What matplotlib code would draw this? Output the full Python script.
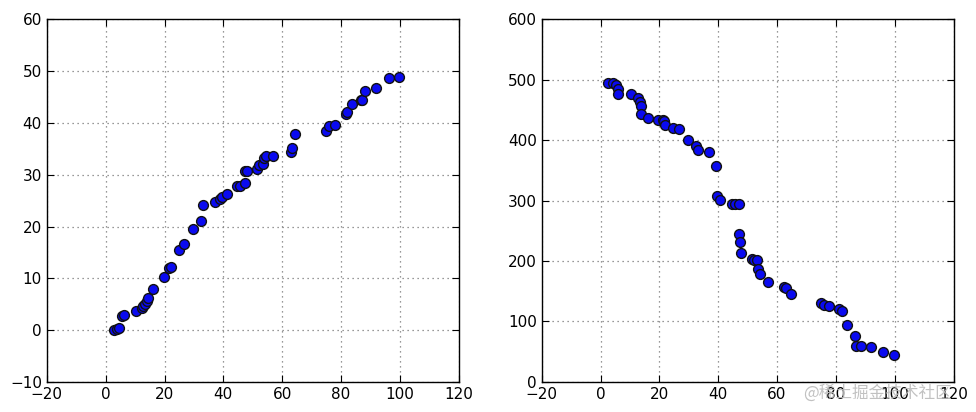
import matplotlib
matplotlib.use('Agg')
import matplotlib.pyplot as plt

# left panel: roughly linear rise
x_left = [2.8, 3.7, 4.5, 5.4, 6.2, 10.3, 12.4, 12.8, 13.4, 13.9, 14.3, 16.0, 19.8,
          21.4, 22.1, 25.0, 26.7, 29.8, 32.3, 33.0, 37.3, 38.8, 39.4, 41.1, 44.8,
          45.6, 47.2, 47.3, 48.1, 51.3, 52.1, 53.6, 53.8, 54.5, 56.8, 62.9, 63.2,
          64.4, 75.0, 75.8, 77.9, 81.7, 82.1, 83.6, 86.7, 87.2, 88.3, 91.8, 96.3, 99.8]
y_left = [0.1, 0.3, 0.45, 2.8, 3.0, 3.6, 4.3, 4.6, 5.0, 5.6, 6.2, 8.0, 10.2,
          12.0, 12.2, 15.4, 16.7, 19.6, 21.0, 24.2, 24.7, 25.4, 25.7, 26.3, 27.8,
          27.9, 28.4, 30.7, 30.7, 31.1, 31.8, 32.0, 33.3, 33.7, 33.7, 34.4, 35.1,
          37.8, 38.4, 39.4, 39.6, 41.8, 42.1, 43.7, 44.4, 44.5, 46.1, 46.8, 48.6, 48.8]

# right panel: falling curve
x_right = [2.6, 4.3, 5.4, 5.8, 6.0, 10.3, 12.6, 13.4, 13.9, 13.9, 16.0, 19.6,
           21.3, 21.6, 21.9, 24.7, 26.7, 29.9, 32.4, 33.1, 37.0, 39.1, 39.6, 40.5,
           44.7, 45.6, 47.0, 47.0, 47.3, 47.9, 51.4, 52.2, 53.3, 53.6, 54.1, 57.0,
           62.4, 63.2, 64.6, 74.9, 76.0, 77.7, 81.1, 82.1, 83.7, 86.4, 87.0, 88.4,
           91.8, 95.9, 99.7]
y_right = [495, 495, 491, 485, 477, 476, 470, 463, 456, 444, 436, 434,
           434, 432, 426, 421, 418, 401, 390, 384, 380, 357, 308, 301,
           295, 294, 294, 245, 231, 214, 204, 201, 201, 187, 179, 165,
           157, 156, 146, 131, 128, 126, 121, 118, 95, 76, 60, 60,
           58, 49, 45]

fig = plt.figure(figsize=(9.76, 4.12), dpi=100, facecolor='white')
ax1 = fig.add_axes([0.048, 0.073, 0.422, 0.88])
ax2 = fig.add_axes([0.555, 0.073, 0.422, 0.88])

for ax, xs, ys in [(ax1, x_left, y_left), (ax2, x_right, y_right)]:
    ax.scatter(xs, ys, s=50, c='#0a0af0', edgecolors='#111111', linewidths=1, zorder=3)
    ax.set_xlim(-20, 120)
    ax.grid(True, linestyle=(0, (1, 3)), color='#777777', linewidth=0.9)
    ax.tick_params(direction='in', top=True, right=True, labelsize=11, length=5)
    for sp in ax.spines.values():
        sp.set_linewidth(1.0)

ax1.set_ylim(-10, 60)
ax2.set_ylim(0, 600)

# watermark
fig.text(0.975, 0.045, '@稀土掘金技术社区', ha='right', va='center', fontsize=12,
         color='#bbbbbb', alpha=0.9, family=['Noto Sans CJK SC', 'DejaVu Sans'])

fig.savefig('out.png', dpi=100, facecolor='white')
